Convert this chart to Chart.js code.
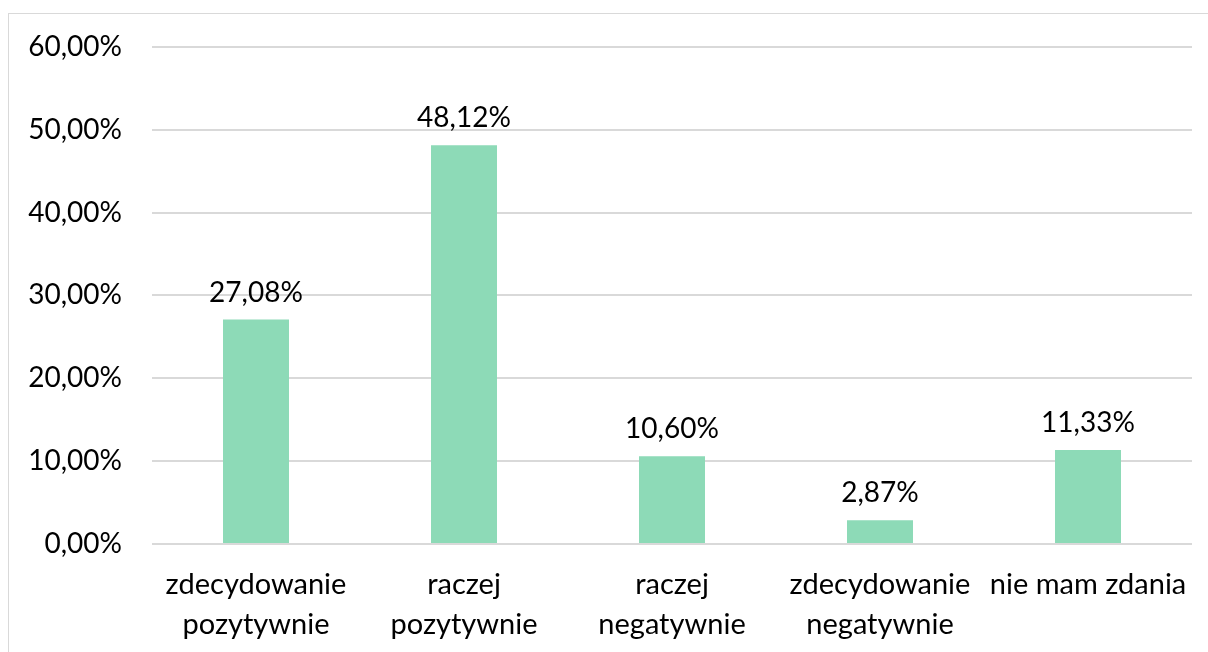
<!DOCTYPE html>
<html>
<head>
<meta charset="utf-8">
<script src="https://cdn.jsdelivr.net/npm/chart.js@4.4.1/dist/chart.umd.min.js"></script>
<style>
  html, body { margin: 0; padding: 0; background: #fff; overflow: hidden; }
  #frame { position: absolute; left: 8px; top: 13px; width: 1400px; height: 900px; border: 1px solid #d9d9d9; }
  #wrap { position: absolute; left: 0; top: 0; width: 1208px; height: 652px; }
</style>
</head>
<body>
<div id="frame"></div>
<div id="wrap"><canvas id="chart"></canvas></div>
<script>
// ====== DATA ======
const categories = [
    ['zdecydowanie', 'pozytywnie'],
    ['raczej', 'pozytywnie'],
    ['raczej', 'negatywnie'],
    ['zdecydowanie', 'negatywnie'],
    'nie mam zdania'
];
const values = [27.08, 48.12, 10.60, 2.87, 11.33];
const yTicks = [0, 10, 20, 30, 40, 50, 60];

const FONT = "Lato, 'Open Sans', sans-serif";
const fmt = v => v.toFixed(2).replace('.', ',') + '%';

// value labels above the bars
const valueLabels = {
    id: 'valueLabels',
    afterDatasetsDraw(chart) {
        const ctx = chart.ctx;
        ctx.save();
        ctx.font = '28px ' + FONT;
        ctx.fillStyle = '#000';
        ctx.textAlign = 'center';
        ctx.textBaseline = 'bottom';
        chart.getDatasetMeta(0).data.forEach((bar, i) => {
            ctx.fillText(fmt(values[i]), bar.x, bar.y - 13);
        });
        ctx.restore();
    }
};

new Chart(document.getElementById('chart'), {
    type: 'bar',
    data: {
        labels: categories,
        datasets: [{
            data: values,
            backgroundColor: '#8ddab7',
            borderWidth: 0,
            categoryPercentage: 1,
            barPercentage: 66 / 208
        }]
    },
    options: {
        responsive: true,
        maintainAspectRatio: false,
        animation: false,
        layout: { padding: { top: 46, right: 16, bottom: 0, left: 0 } },
        plugins: { legend: { display: false }, tooltip: { enabled: false } },
        scales: {
            x: {
                grid: { display: false },
                border: { display: false },
                ticks: {
                    color: '#000',
                    font: { family: FONT, size: 29, lineHeight: 1.38 },
                    maxRotation: 0,
                    autoSkip: false,
                    padding: 13
                },
                afterFit(scale) { scale.height = 108; }
            },
            y: {
                min: 0,
                max: 60,
                afterBuildTicks(scale) { scale.ticks = yTicks.map(v => ({ value: v })); },
                grid: { color: '#d9d9d9', lineWidth: 2, drawTicks: false },
                border: { display: false },
                ticks: {
                    color: '#000',
                    font: { family: FONT, size: 28 },
                    padding: 30,
                    callback: v => fmt(v)
                },
                afterFit(scale) { scale.width = 152; }
            }
        }
    },
    plugins: [valueLabels]
});
</script>
</body>
</html>
